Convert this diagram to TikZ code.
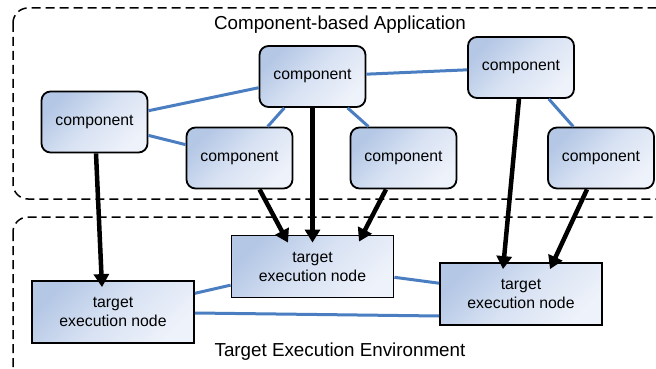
\documentclass[tikz,border=0pt]{standalone}
\usepackage{fontspec}
\setmainfont{Liberation Sans}
\usetikzlibrary{arrows.meta}
\definecolor{boxdark}{RGB}{180,199,229}
\definecolor{boxmid}{RGB}{216,226,243}
\definecolor{boxlight}{RGB}{238,242,250}
\definecolor{linkblue}{RGB}{74,126,193}
\tikzset{
  comp/.style={draw, line width=1.8pt, rounded corners=9pt, top color=boxdark, bottom color=boxlight, middle color=boxmid, shading angle=45, minimum width=106pt, minimum height=61pt, font=\fontsize{15.8}{19}\selectfont},
  target/.style={draw, line width=1.8pt, top color=boxdark, bottom color=boxlight, middle color=boxmid, shading angle=45, minimum width=162pt, minimum height=62pt, align=center, font=\fontsize{15.8}{19}\selectfont},
  link/.style={linkblue, line width=3pt},
  deploy/.style={line width=4.5pt, -{Triangle[length=13pt,width=15pt]}},
  region/.style={dash pattern=on 9pt off 5pt, line width=1.5pt, rounded corners=15pt},
  title/.style={font=\fontsize{18.8}{22}\selectfont}
}
\begin{document}
\begin{tikzpicture}[x=1pt, y=-1pt]
  \clip (0,0) rectangle (656,369);
  \draw[region] (13,8) rectangle (672,199);
  \draw[region] (13,217) rectangle (672,392);
  \node[title] (9) at (340,25) {Component-based Application};
  \node[title] (10) at (340,352) {Target Execution Environment};
  % components
  \node[comp] (0) at (94.5,122) {component};
  \node[comp] (1) at (312.5,76.5) {component};
  \node[comp] (2) at (239.5,158) {component};
  \node[comp] (3) at (403.5,158) {component};
  \node[comp] (4) at (521,67.5) {component};
  \node[comp] (5) at (601,158) {component};
  % execution nodes
  \node[target] (6) at (113,312) {target\\execution node};
  \node[target] (7) at (312.5,266.5) {target\\execution node};
  \node[target] (8) at (521,294) {target\\execution node};
  \draw[link] (0)--(1);
  \draw[link] (0)--(2);
  \draw[link] (1)--(2);
  \draw[link] (1)--(3);
  \draw[link] (1)--(4);
  \draw[link] (4)--(5);
  \draw[link] (6)--(7);
  \draw[link] (7)--(8);
  \draw[link] ([yshift=-1pt]6.east)--([yshift=-22pt]8.west);
  \draw[deploy] ([xshift=1.5pt]0.south)--([xshift=-11pt,yshift=-7pt]6.north);
  \draw[deploy] ([xshift=20pt]2.south)--([xshift=-24.5pt,yshift=-8pt]7.north);
  \draw[deploy] (1.south)--([yshift=-8pt]7.north);
  \draw[deploy] ([xshift=-17.5pt]3.south)--([xshift=46.5pt,yshift=-7pt]7.north);
  \draw[deploy] ([xshift=-2pt]4.south)--([xshift=-18pt,yshift=-7pt]8.north);
  \draw[deploy] ([xshift=-14pt]5.south)--([xshift=29pt,yshift=-7pt]8.north);
\end{tikzpicture}
\end{document}
